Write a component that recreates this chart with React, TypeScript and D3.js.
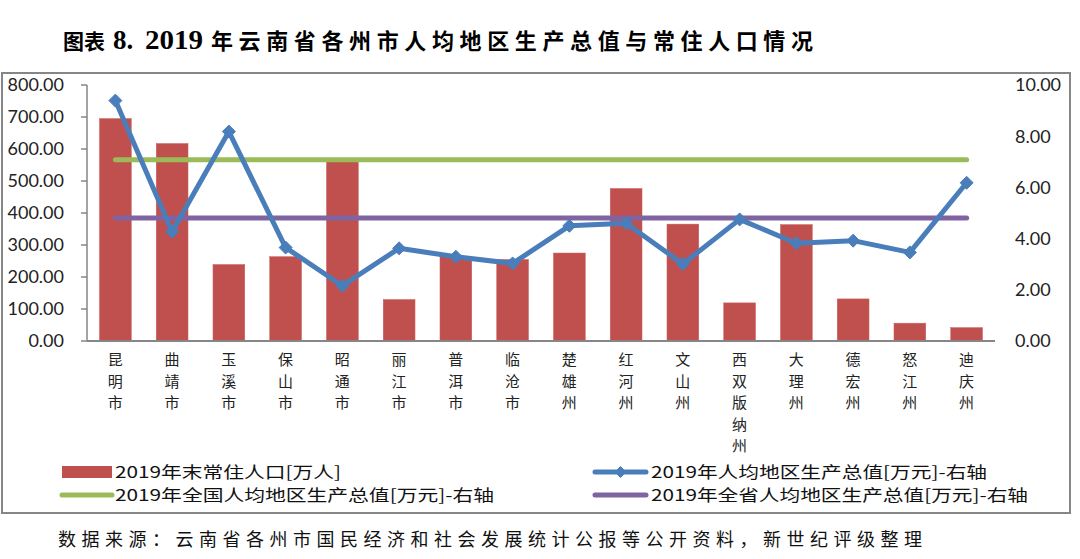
import React from "react";
import * as d3 from "d3";

const categories = ["昆明市","曲靖市","玉溪市","保山市","昭通市","丽江市","普洱市","临沧市","楚雄州","红河州","文山州","西双版纳州","大理州","德宏州","怒江州","迪庆州"];
const population = [695.0, 617.1, 239.0, 263.4, 561.6, 129.6, 263.8, 254.7, 274.9, 476.6, 365.2, 119.1, 363.7, 131.5, 55.7, 41.8];
const gdpPerCapita = [9.39, 4.27, 8.18, 3.65, 2.16, 3.62, 3.29, 3.03, 4.50, 4.60, 3.01, 4.75, 3.82, 3.92, 3.46, 6.18];
const nationalAvg = 7.08;
const provinceAvg = 4.80;
const leftTicks = [0, 100, 200, 300, 400, 500, 600, 700, 800];
const rightTicks = [0, 2, 4, 6, 8, 10];

const W = 1080, H = 559;
const plot = { left: 87, right: 995, top: 85, bottom: 341 };
const RED = "#C0504D", BLUE = "#4A7EBB", GREEN = "#9BBB59", PURPLE = "#8064A2", AXIS = "#868686";
const NUM_FONT = "Lato, 'Open Sans', sans-serif";
const CJK = "'Noto Sans CJK SC', sans-serif";
const SERIF = "'Liberation Serif', 'DejaVu Serif', serif";

function Diamond({ x, y, r }: { x: number; y: number; r: number }) {
  return <path d={`M${x},${y - r}L${x + r},${y}L${x},${y + r}L${x - r},${y}Z`} fill={BLUE} stroke={BLUE} strokeWidth={1} />;
}

export default function App() {
  const x = d3.scaleBand<string>().domain(categories).range([plot.left, plot.right]).paddingInner(0.44).paddingOuter(0.22);
  const yL = d3.scaleLinear().domain([0, 800]).range([plot.bottom, plot.top]);
  const yR = d3.scaleLinear().domain([0, 10]).range([plot.bottom, plot.top]);
  const cx = (c: string) => (x(c) as number) + x.bandwidth() / 2;
  const line = d3.line<number>().x((_, i) => cx(categories[i])).y((d) => yR(d));
  const x0 = cx(categories[0]);
  const x1 = cx(categories[categories.length - 1]);

  return (
    <svg width={W} height={H} style={{ position: "absolute", left: 0, top: 0, background: "#fff" }}>
      <rect x={0} y={0} width={W} height={H} fill="#fff" />
      {/* title */}
      <text x={63} y={49} fontFamily={CJK} fontWeight={700} fontSize={21} fill="#000" textLength={42} lengthAdjust="spacing">图表</text>
      <text x={113} y={49} fontFamily={SERIF} fontWeight={700} fontSize={27} fill="#000">8.</text>
      <text x={145} y={49} fontFamily={SERIF} fontWeight={700} fontSize={27} fill="#000" textLength={58} lengthAdjust="spacingAndGlyphs">2019</text>
      <text x={211} y={49} fontFamily={CJK} fontWeight={700} fontSize={22} fill="#000" textLength={602} lengthAdjust="spacing">年云南省各州市人均地区生产总值与常住人口情况</text>

      <rect x={2} y={73} width={1068} height={440} fill="none" stroke={AXIS} strokeWidth={2} />

      {/* bars */}
      {categories.map((c, i) => (
        <rect key={c} x={x(c)} y={yL(population[i])} width={x.bandwidth()} height={yL(0) - yL(population[i])} fill={RED} stroke="#C9605D" strokeWidth={0.5} />
      ))}

      {/* axes */}
      <line x1={plot.left} x2={plot.left} y1={plot.top} y2={plot.bottom} stroke={AXIS} strokeWidth={1.5} />
      {leftTicks.map((t) => (
        <g key={t}>
          <line x1={plot.left - 6} x2={plot.left} y1={yL(t)} y2={yL(t)} stroke={AXIS} strokeWidth={1.5} />
          <text x={64} y={yL(t)} dy="0.36em" textAnchor="end" fontFamily={NUM_FONT} fontSize={18} fill="#222">{t.toFixed(2)}</text>
        </g>
      ))}
      {rightTicks.map((t) => (
        <text key={t} x={1015} y={yR(t)} dy="0.36em" textAnchor="start" fontFamily={NUM_FONT} fontSize={18} fill="#222">{t.toFixed(2)}</text>
      ))}
      <line x1={plot.left} x2={plot.right} y1={plot.bottom} y2={plot.bottom} stroke={AXIS} strokeWidth={2} />

      {/* category labels, vertical */}
      {categories.map((c) => (
        <text key={c} x={cx(c)} y={360} textAnchor="middle" fontFamily={CJK} fontSize={15} fill="#222">
          {Array.from(c).map((ch, k) => (
            <tspan key={k} x={cx(c)} y={360 + k * 21.5} dy="0.36em">{ch}</tspan>
          ))}
        </text>
      ))}

      {/* reference lines */}
      <line x1={x0} x2={x1} y1={yR(nationalAvg)} y2={yR(nationalAvg)} stroke={GREEN} strokeWidth={5} strokeLinecap="round" />
      <line x1={x0} x2={x1} y1={yR(provinceAvg)} y2={yR(provinceAvg)} stroke={PURPLE} strokeWidth={5} strokeLinecap="round" />

      {/* gdp line */}
      <path d={line(gdpPerCapita) || ""} fill="none" stroke={BLUE} strokeWidth={5} strokeLinejoin="round" />
      {gdpPerCapita.map((v, i) => (
        <Diamond key={i} x={cx(categories[i])} y={yR(v)} r={6.5} />
      ))}

      {/* legend */}
      <rect x={62} y={466} width={50} height={12} fill={RED} />
      <text x={115} y={472} dy="0.36em" fontFamily={CJK} fontSize={16} fill="#111" textLength={226} lengthAdjust="spacingAndGlyphs">2019年末常住人口[万人]</text>
      <line x1={595} x2={646} y1={472} y2={472} stroke={BLUE} strokeWidth={5} strokeLinecap="round" />
      <Diamond x={620.5} y={472} r={5.5} />
      <text x={651} y={472} dy="0.36em" fontFamily={CJK} fontSize={16} fill="#111" textLength={336} lengthAdjust="spacingAndGlyphs">2019年人均地区生产总值[万元]-右轴</text>
      <line x1={62} x2={112} y1={495} y2={495} stroke={GREEN} strokeWidth={5} strokeLinecap="round" />
      <text x={115} y={495} dy="0.36em" fontFamily={CJK} fontSize={16} fill="#111" textLength={379} lengthAdjust="spacingAndGlyphs">2019年全国人均地区生产总值[万元]-右轴</text>
      <line x1={595} x2={646} y1={495} y2={495} stroke={PURPLE} strokeWidth={5} strokeLinecap="round" />
      <text x={651} y={495} dy="0.36em" fontFamily={CJK} fontSize={16} fill="#111" textLength={377} lengthAdjust="spacingAndGlyphs">2019年全省人均地区生产总值[万元]-右轴</text>

      {/* footer */}
      <text x={58} y={540} dy="0.36em" fontFamily={CJK} fontSize={18} fill="#111" textLength={864} lengthAdjust="spacing">数据来源：云南省各州市国民经济和社会发展统计公报等公开资料，新世纪评级整理</text>
    </svg>
  );
}
